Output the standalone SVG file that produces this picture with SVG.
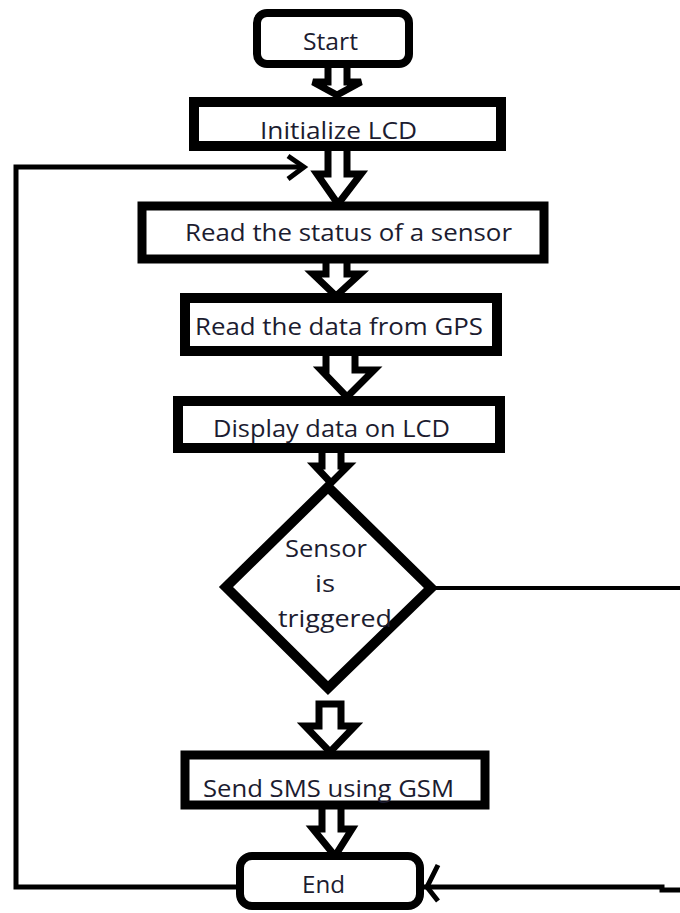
<svg xmlns="http://www.w3.org/2000/svg" width="680" height="913" viewBox="0 0 680 913">
<style>
.box{fill:#fff;stroke:#000;stroke-linejoin:miter}
.arr{fill:#fff;stroke:#000;stroke-width:7;stroke-linejoin:miter}
.ln{fill:none;stroke:#000;stroke-linecap:butt;stroke-linejoin:miter}
.t{font-family:"Open Sans","Noto Sans","Liberation Sans",sans-serif;font-size:24px;fill:#1c1c30}
</style>
<rect width="680" height="913" fill="#fff"/>
<g id="connectors">
<polygon class="arr" points="328,62 328,82 313,82 337,95 361,82 347,82 347,62"/>
<polygon class="arr" points="328,146 328,174 317,174 338,204 361,174 347,174 347,146"/>
<polygon class="arr" points="326,259 326,274 313,274 336,296 360,274 347,274 347,259"/>
<polygon class="arr" points="326,351 326,370 321,370 347,397 374,370 355,370 355,351"/>
<polygon class="arr" points="322,448 322,466 315,466 331,483 348,466 341,466 341,448"/>
<polygon class="arr" points="319,704 319,726 305,726 330,752 355,726 341,726 341,704"/>
<polygon class="arr" points="322,805 322,829 313,829 335,856 352,829 341,829 341,805"/>
<path class="ln" stroke-width="5" d="M303,167 H16 V887 H238"/>
<path class="ln" stroke-width="5" d="M288,156 L304,167 L288,179"/>
<path class="ln" stroke-width="4" d="M432,588 H680"/>
<path class="ln" stroke-width="5" d="M680,890 H662 V887 H424"/>
<path class="ln" stroke-width="5" d="M438,865 L427,887 L438,901"/>
</g>
<g id="start">
<rect class="box" x="257" y="13" width="152" height="51" rx="10" stroke-width="8"/>
<text class="t" x="303" y="50" textLength="55" lengthAdjust="spacingAndGlyphs">Start</text>
</g>
<g id="init-lcd">
<rect class="box" x="194" y="102" width="307" height="44" stroke-width="10"/>
<text class="t" x="260" y="139" textLength="157" lengthAdjust="spacingAndGlyphs">Initialize LCD</text>
</g>
<g id="read-sensor">
<rect class="box" x="142" y="206" width="402" height="53" stroke-width="9"/>
<text class="t" x="185" y="241" textLength="327" lengthAdjust="spacingAndGlyphs">Read the status of a sensor</text>
</g>
<g id="read-gps">
<rect class="box" x="185" y="298" width="312" height="53" stroke-width="10"/>
<text class="t" x="195" y="335" textLength="288" lengthAdjust="spacingAndGlyphs">Read the data from GPS</text>
</g>
<g id="display-lcd">
<rect class="box" x="178" y="401" width="322" height="47" stroke-width="10"/>
<text class="t" x="213" y="437" textLength="237" lengthAdjust="spacingAndGlyphs">Display data on LCD</text>
</g>
<g id="decision">
<polygon class="box" points="328,487 431,588 328,688 226,587" stroke-width="10"/>
<text class="t" x="285" y="557" textLength="82" lengthAdjust="spacingAndGlyphs">Sensor</text>
<text class="t" x="315" y="592" textLength="20" lengthAdjust="spacingAndGlyphs">is</text>
<text class="t" x="278" y="627" textLength="114" lengthAdjust="spacingAndGlyphs">triggered</text>
</g>
<g id="send-sms">
<rect class="box" x="185" y="755" width="300" height="50" stroke-width="9"/>
<text class="t" x="203" y="797" textLength="251" lengthAdjust="spacingAndGlyphs">Send SMS using GSM</text>
</g>
<g id="end">
<rect class="box" x="240" y="856" width="180" height="50" rx="12" stroke-width="8"/>
<text class="t" x="302" y="893" textLength="43" lengthAdjust="spacingAndGlyphs">End</text>
</g>
</svg>
